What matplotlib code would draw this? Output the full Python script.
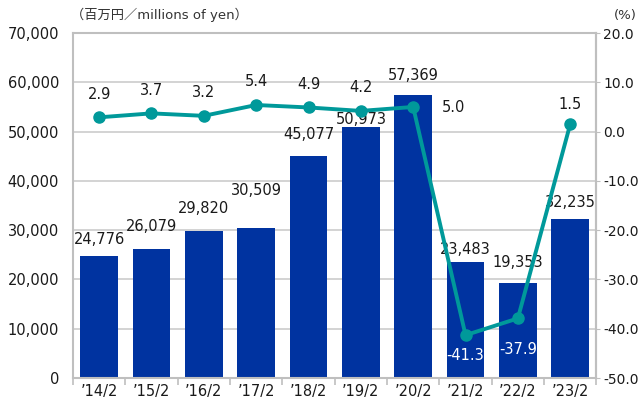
import matplotlib.pyplot as plt
import numpy as np

plt.rcParams['font.family'] = ['DejaVu Sans', 'Noto Sans CJK JP']

# data
years = ["’14/2", "’15/2", "’16/2", "’17/2", "’18/2", "’19/2", "’20/2", "’21/2", "’22/2", "’23/2"]
sales = [24776, 26079, 29820, 30509, 45077, 50973, 57369, 23483, 19353, 32235]
margin = [2.9, 3.7, 3.2, 5.4, 4.9, 4.2, 5.0, -41.3, -37.9, 1.5]

# label offsets (manual placement, as in the original)
bar_lab_dy = [3250, 4670, 4670, 7500, 4260, 1420, 4060, 2640, 4060, 3450]
line_lab_dy = [4.7, 4.7, 4.7, 4.8, 4.7, 4.8, -0.2, -4.1, -6.3, 4.1]
line_lab_dx = [0, 0, 0, 0, 0, 0, 0.77, 0, 0, 0]

bar_col = '#0033A0'
line_col = '#00999A'
grid_col = '#D0D0D0'
spine_col = '#BFBFBF'
txt_col = '#1A1A1A'

fig = plt.figure(figsize=(6.43, 4.03), dpi=100)
ax = fig.add_axes([0.1135, 0.062, 0.814, 0.856])
ax2 = ax.twinx()

x = np.arange(len(years))
ax.bar(x, sales, width=0.72, color=bar_col, zorder=2)
ax.set_ylim(0, 70000)
ax.set_xlim(-0.5, len(years) - 0.5)
ax.set_yticks(np.arange(0, 70001, 10000))
ax.set_yticklabels([f"{v:,}" for v in range(0, 70001, 10000)])
ax.yaxis.grid(True, color=grid_col, lw=1.3, zorder=0)
ax.set_axisbelow(True)
ax.tick_params(axis='y', length=0, labelsize=10.5, pad=10, labelcolor=txt_col)
ax.set_xticks(x)
ax.set_xticklabels(years)
ax.tick_params(axis='x', length=0, labelsize=10.5, pad=4, labelcolor=txt_col)
ax.set_xticks(np.arange(-0.5, len(years), 1), minor=True)
ax.tick_params(axis='x', which='minor', length=5, color=spine_col, width=1.2)

for s in ['left', 'right', 'bottom', 'top']:
    ax.spines[s].set_color(spine_col)
    ax.spines[s].set_linewidth(1.5)
ax2.spines['right'].set_color(spine_col)
ax2.spines['right'].set_linewidth(1.5)
for s in ['left', 'bottom', 'top']:
    ax2.spines[s].set_visible(False)

for i, v in enumerate(sales):
    ax.text(x[i], v + bar_lab_dy[i], f"{v:,}", ha='center', va='center',
            fontsize=10.5, color=txt_col, zorder=5)

ax2.plot(x, margin, color=line_col, lw=2.8, marker='o', ms=8, zorder=4)
ax2.set_ylim(-50, 20)
ax2.set_yticks(np.arange(-50, 21, 10))
ax2.set_yticklabels([f"{v:.1f}" for v in range(-50, 21, 10)])
ax2.tick_params(axis='y', length=3, color=spine_col, labelsize=10, pad=2, labelcolor=txt_col)

for i, v in enumerate(margin):
    c = 'white' if v < -30 else txt_col
    ax2.text(x[i] + line_lab_dx[i], v + line_lab_dy[i], f"{v:.1f}", ha='center', va='center',
             fontsize=10.5, color=c, zorder=6)

fig.text(0.11, 0.962, "（百万円／millions of yen）", fontsize=9.5, ha='left', va='center', color='#333333')
fig.text(0.972, 0.962, "(%)", fontsize=9.5, ha='center', va='center', color='#333333')
fig.text(0.905, 1.012, "営業利益率", fontsize=9.5, ha='center', va='center', color='#333333')

fig.savefig('out.png', dpi=100)
